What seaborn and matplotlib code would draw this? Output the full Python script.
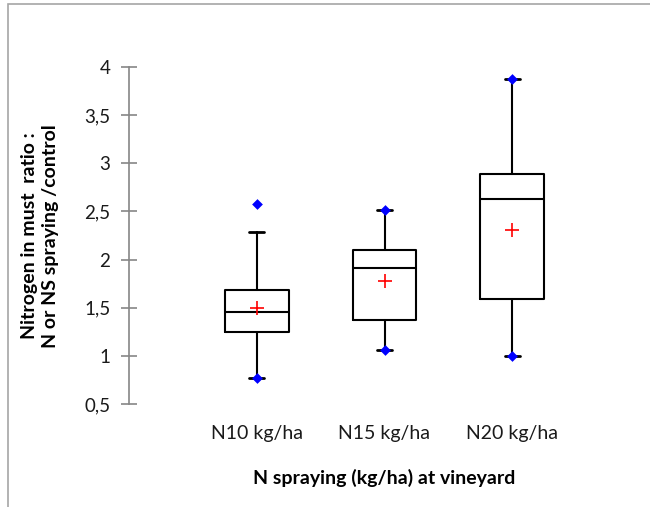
import matplotlib
matplotlib.use("Agg")
import matplotlib.pyplot as plt
import seaborn as sns
import pandas as pd
from matplotlib.patches import Rectangle

# ---- data ----
groups = ["N10 kg/ha", "N15 kg/ha", "N20 kg/ha"]
q1 = [1.25, 1.377, 1.59]
median = [1.453, 1.917, 2.626]
q3 = [1.68, 2.10, 2.889]
whisker_low = [0.775, 1.06, 0.996]
whisker_high = [2.287, 2.515, 3.88]
minimum = [0.775, 1.06, 0.996]
maximum = [2.58, 2.515, 3.88]
mean = [1.50, 1.775, 2.304]
y_ticks = [0.5, 1, 1.5, 2, 2.5, 3, 3.5, 4]
y_tick_labels = ["0,5", "1", "1,5", "2", "2,5", "3", "3,5", "4"]

sns.set_style("white")
plt.rcParams["font.family"] = ["Lato", "DejaVu Sans"]

W, H = 650, 507
fig = plt.figure(figsize=(6.5, 5.07), dpi=100)
ax = fig.add_axes([129 / W, 1 - 404 / H, 511 / W, 337 / H])

stats = []
for i in range(len(groups)):
    stats.append(dict(med=median[i], q1=q1[i], q3=q3[i],
                      whislo=whisker_low[i], whishi=whisker_high[i],
                      fliers=[], label=groups[i]))

ax.bxp(stats, positions=[0, 1, 2], widths=0.5, showfliers=False,
       patch_artist=False,
       boxprops=dict(color="black", linewidth=1.5),
       medianprops=dict(color="black", linewidth=1.5),
       whiskerprops=dict(color="black", linewidth=1.5),
       capprops=dict(color="black", linewidth=2.0), capwidths=0.117)

ext = pd.DataFrame({"group": groups * 2, "value": minimum + maximum})
sns.scatterplot(data=ext, x="group", y="value", ax=ax, marker="D",
                color="#0000FF", s=30, edgecolor="#0000FF", linewidth=0, zorder=5)

means = pd.DataFrame({"group": groups, "value": mean})
sns.scatterplot(data=means, x="group", y="value", ax=ax, marker="+",
                color="#FF0000", s=110, linewidth=1.2, zorder=6)

ax.set_xlim(-1, 3)
ax.set_ylim(0.5, 4)
ax.set_xticks([0, 1, 2])
ax.set_xticklabels(groups, fontsize=14, color="#1a1a1a")
ax.set_yticks(y_ticks)
ax.set_yticklabels(y_tick_labels, fontsize=13.5, color="#1a1a1a")

for s in ["top", "right", "bottom"]:
    ax.spines[s].set_visible(False)
ax.spines["left"].set_color("#868686")
ax.spines["left"].set_linewidth(1.2)
ax.tick_params(axis="y", direction="inout", length=11, width=1.2,
               color="#868686", pad=8, left=True)
ax.tick_params(axis="x", length=0, pad=15)

ax.set_xlabel("")
ax.set_ylabel("")
fig.text(384 / W, 1 - 484 / H, "N spraying (kg/ha) at vineyard", fontsize=14,
         fontweight="bold", ha="center", va="baseline", color="black")
fig.text(40 / W, 1 - 236 / H, "Nitrogen in must  ratio :\nN or NS spraying /control",
         fontsize=14, fontweight="bold", ha="center", va="center", rotation=90,
         multialignment="center", linespacing=1.35, color="black")

fig.patches.append(Rectangle((8 / W, -0.1), 1.2, (1 - 4 / H) + 0.1,
                             transform=fig.transFigure, fill=False,
                             edgecolor="#A6A6A6", linewidth=1.2))

fig.savefig("out.png", dpi=100)
